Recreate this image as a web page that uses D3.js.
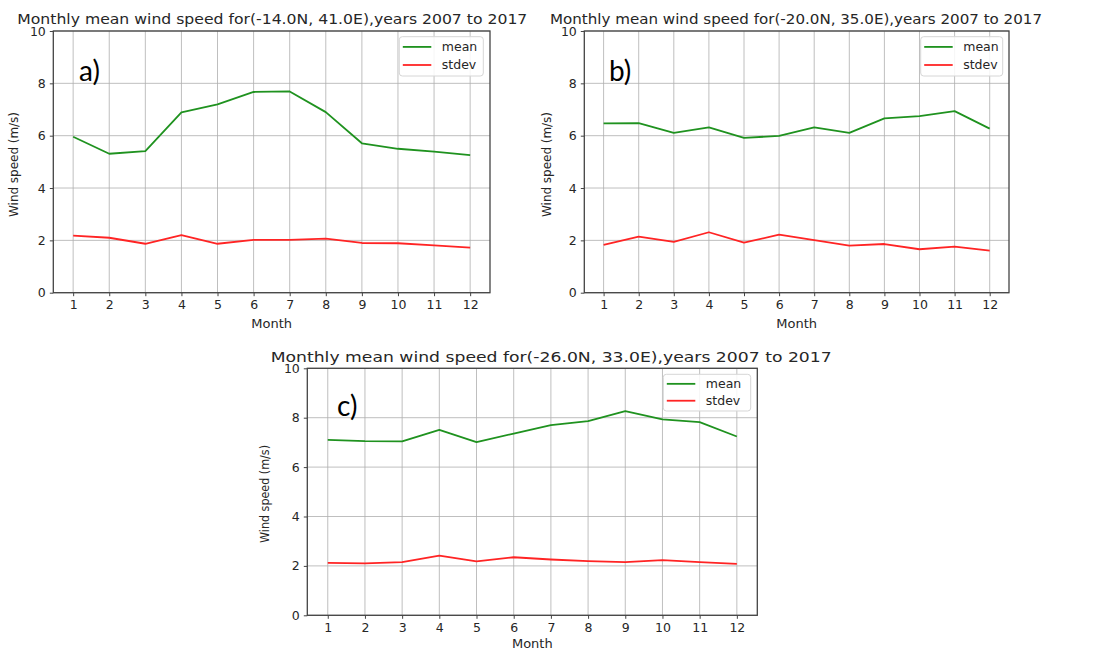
<!DOCTYPE html>
<html>
<head>
<meta charset="utf-8">
<script src="https://cdn.jsdelivr.net/npm/d3@7"></script>
<style>
  body { margin: 0; background: #fff; }
  svg text { font-family: "DejaVu Sans", sans-serif; fill: #262626; }
  .grid line { stroke: #b0b0b0; stroke-width: 1; opacity: 0.8; }
  .axis path, .axis line { stroke: #444; }
  .axis text { font-size: 12.5px; fill: #262626; font-family: "DejaVu Sans", sans-serif; }
</style>
</head>
<body>
<svg id="chart" width="1095" height="650"></svg>
<script>
// months on the x axis
let months = [1, 2, 3, 4, 5, 6, 7, 8, 9, 10, 11, 12];
let yTicks = [0, 2, 4, 6, 8, 10];

let titleA = 'Monthly mean wind speed for(-14.0N, 41.0E),years 2007 to 2017';
let titleB = 'Monthly mean wind speed for(-20.0N, 35.0E),years 2007 to 2017';
let titleC = 'Monthly mean wind speed for(-26.0N, 33.0E),years 2007 to 2017';

let meanA  = [5.96, 5.31, 5.41, 6.89, 7.20, 7.67, 7.69, 6.90, 5.71, 5.50, 5.39, 5.26];
let stdevA = [2.18, 2.10, 1.87, 2.20, 1.87, 2.02, 2.02, 2.07, 1.90, 1.89, 1.81, 1.72];

let meanB  = [6.47, 6.48, 6.11, 6.32, 5.92, 5.99, 6.32, 6.11, 6.66, 6.75, 6.94, 6.27];
let stdevB = [1.83, 2.14, 1.94, 2.31, 1.91, 2.22, 2.01, 1.80, 1.86, 1.66, 1.76, 1.61];

let meanC  = [7.10, 7.05, 7.04, 7.51, 7.01, 7.36, 7.70, 7.86, 8.27, 7.93, 7.82, 7.24];
let stdevC = [2.12, 2.10, 2.15, 2.42, 2.18, 2.35, 2.26, 2.19, 2.15, 2.23, 2.15, 2.08];

let seriesNames = ['mean', 'stdev'];
let colors = {mean: '#1f921f', stdev: '#ff2424'};

// where each panel sits in the picture
let panels = [
  {letter: 'a)', title: titleA, mean: meanA, stdev: stdevA,
   left: 53.3, right: 490, top: 31, bottom: 292.7,
   titleX: 17.3, titleW: 510, titleY: 23.5,
   ylabX: 18, ylabY: 164.5, ylabLen: 105, xlabY: 328,
   legend: {x: 399.3, y: 36.7, w: 84, h: 39.3}, letterX: 79, letterY: 81},
  {letter: 'b)', title: titleB, mean: meanB, stdev: stdevB,
   left: 584.3, right: 1009, top: 31, bottom: 292.7,
   titleX: 550, titleW: 492, titleY: 23.5,
   ylabX: 551, ylabY: 164.5, ylabLen: 105, xlabY: 328,
   legend: {x: 920.7, y: 36.7, w: 82, h: 39.3}, letterX: 609, letterY: 81},
  {letter: 'c)', title: titleC, mean: meanC, stdev: stdevC,
   left: 307.3, right: 757.3, top: 368.3, bottom: 615.3,
   titleX: 270.7, titleW: 561, titleY: 362,
   ylabX: 269, ylabY: 494, ylabLen: 98, xlabY: 648,
   legend: {x: 663.3, y: 374.3, w: 87.4, h: 36.7}, letterX: 337, letterY: 416}
];

let svg = d3.select('#chart');

panels.forEach(function(p) {
  let x = d3.scaleLinear().domain([0.45, 12.55]).range([p.left, p.right]);
  let y = d3.scaleLinear().domain([0, 10]).range([p.bottom, p.top]);

  let g = svg.append('g');

  // grid
  let grid = g.append('g').attr('class', 'grid');
  grid.selectAll('.vx').data(months).enter().append('line')
    .attr('x1', d => x(d)).attr('x2', d => x(d))
    .attr('y1', p.top).attr('y2', p.bottom);
  grid.selectAll('.hy').data(yTicks).enter().append('line')
    .attr('x1', p.left).attr('x2', p.right)
    .attr('y1', d => y(d)).attr('y2', d => y(d));

  // lines
  let line = d3.line()
    .x((d, i) => x(months[i]))
    .y(d => y(d));
  seriesNames.forEach(function(name) {
    g.append('path')
      .attr('d', line(p[name]))
      .attr('fill', 'none')
      .attr('stroke', colors[name])
      .attr('stroke-width', 1.8)
      .attr('stroke-linejoin', 'round');
  });

  // axes
  g.append('g').attr('class', 'axis')
    .attr('transform', 'translate(0,' + p.bottom + ')')
    .call(d3.axisBottom(x).tickValues(months).tickSize(3.5).tickPadding(4).tickFormat(d3.format('d')))
    .select('.domain').remove();
  g.append('g').attr('class', 'axis')
    .attr('transform', 'translate(' + p.left + ',0)')
    .call(d3.axisLeft(y).tickValues(yTicks).tickSize(3.5).tickPadding(4).tickFormat(d3.format('d')))
    .select('.domain').remove();

  // frame
  g.append('rect')
    .attr('x', p.left).attr('y', p.top)
    .attr('width', p.right - p.left).attr('height', p.bottom - p.top)
    .attr('fill', 'none').attr('stroke', '#444').attr('stroke-width', 1.3);

  // title
  g.append('text')
    .attr('x', p.titleX).attr('y', p.titleY)
    .attr('textLength', p.titleW).attr('lengthAdjust', 'spacingAndGlyphs')
    .style('font-size', '14.5px')
    .text(p.title);

  // axis labels
  g.append('text')
    .attr('transform', 'translate(' + p.ylabX + ',' + p.ylabY + ') rotate(-90)')
    .attr('text-anchor', 'middle')
    .attr('textLength', p.ylabLen).attr('lengthAdjust', 'spacingAndGlyphs')
    .style('font-size', '12px')
    .text('Wind speed (m/s)');
  g.append('text')
    .attr('x', (p.left + p.right) / 2).attr('y', p.xlabY)
    .attr('text-anchor', 'middle')
    .style('font-size', '13px')
    .text('Month');

  // legend
  let L = p.legend;
  let lg = g.append('g').attr('transform', 'translate(' + L.x + ',' + L.y + ')');
  lg.append('rect')
    .attr('width', L.w).attr('height', L.h).attr('rx', 3)
    .attr('fill', 'rgba(255,255,255,0.85)').attr('stroke', '#d6d6d6');
  seriesNames.forEach(function(name, i) {
    let ly = L.h * (0.26 + i * 0.46);
    lg.append('line')
      .attr('x1', 3.5).attr('x2', 32).attr('y1', ly).attr('y2', ly)
      .attr('stroke', colors[name]).attr('stroke-width', 1.8);
    lg.append('text')
      .attr('x', 42.5).attr('y', ly).attr('dy', '0.35em')
      .style('font-size', '12.5px')
      .text(name);
  });

  // panel letter
  g.append('text')
    .attr('x', p.letterX).attr('y', p.letterY)
    .style('font-family', 'Lato, "Open Sans", sans-serif')
    .style('font-size', '28px')
    .style('fill', '#000')
    .text(p.letter);
});
</script>
</body>
</html>
